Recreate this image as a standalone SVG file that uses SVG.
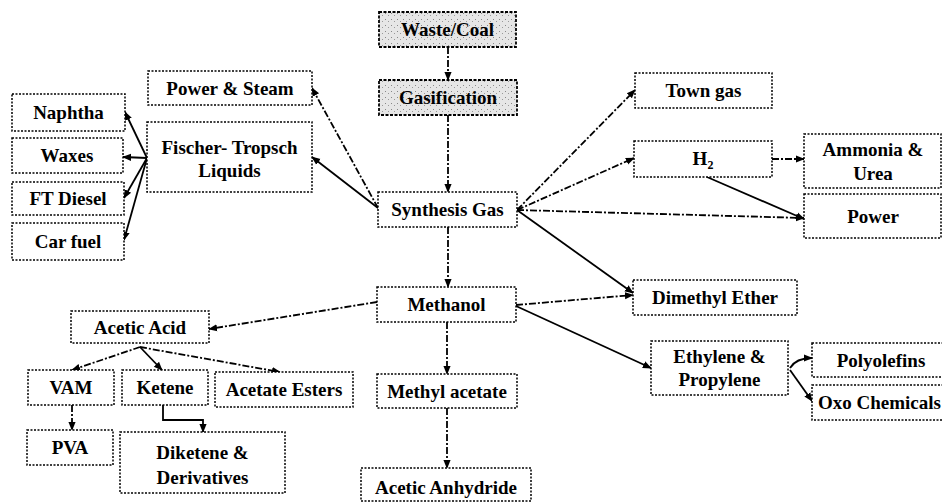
<svg xmlns="http://www.w3.org/2000/svg" width="942" height="502" viewBox="0 0 942 502">
<defs>
<marker id="ah" viewBox="0 0 10 10" refX="9" refY="5" markerWidth="5" markerHeight="5" orient="auto-start-reverse" markerUnits="strokeWidth">
<path d="M0,1 L10,5 L0,9 z" fill="#000"/>
</marker>
<pattern id="stip" width="6" height="6" patternUnits="userSpaceOnUse">
<rect width="6" height="6" fill="#e6e6e6"/>
<rect x="1" y="1" width="1" height="1" fill="#888"/>
<rect x="4" y="3" width="1" height="1" fill="#999"/>
</pattern>
<style>
.box{fill:#fff;stroke:#000;stroke-width:1.5;stroke-dasharray:2 1.5}
.shade{fill:url(#stip);stroke:#000;stroke-width:1.8;stroke-dasharray:3 1.5}
text{font-family:"Liberation Serif","Times New Roman",serif;font-weight:bold;font-size:19px;fill:#000;text-anchor:middle}
.c{fill:none;stroke:#000;stroke-width:1.8;stroke-dasharray:7 2 2 2;marker-end:url(#ah)}
.s{fill:none;stroke:#000;stroke-width:1.8;marker-end:url(#ah)}
</style>
</defs>
<rect width="942" height="502" fill="#fff"/>

<g id="connectors">
<path class="c" d="M448,47 L448,80"/>
<path class="c" d="M448,115 L448,192"/>
<path class="c" d="M448,227 L448,287"/>
<path class="c" d="M447,322 L447,374"/>
<path class="c" d="M447,408 L447,468"/>
<path class="c" d="M378,208 L312,88"/>
<path class="s" d="M378,208 L312,157"/>
<path class="s" d="M147,158 L125,112"/>
<path class="s" d="M147,158 L123,157"/>
<path class="s" d="M147,158 L124,198"/>
<path class="s" d="M147,158 L124,240"/>
<path class="c" d="M517,210 L635,90"/>
<path class="c" d="M517,210 L634,158"/>
<path class="c" d="M517,210 L804,218"/>
<path class="s" d="M517,210 L633,293"/>
<path class="c" d="M516,305 L633,295"/>
<path class="s" d="M516,306 L651,368"/>
<path class="c" d="M772,159 L804,159"/>
<path class="s" d="M707,177 L804,219"/>
<path class="s" d="M790,368 Q796,358 812,358"/>
<path class="s" d="M790,370 L812,401"/>
<path class="c" d="M377,302 L209,329"/>
<path class="c" d="M140,347 L72,370"/>
<path class="s" d="M140,347 L162,370"/>
<path class="c" d="M140,347 L280,372"/>
<path class="c" d="M72,405 L72,430"/>
<path class="s" d="M163,405 L163,420 L203,420 L203,432"/>
</g>

<g id="waste-coal"><rect class="shade" x="379" y="12" width="137" height="35"/><text x="447.5" y="36">Waste/Coal</text></g>
<g id="gasification"><rect class="shade" x="379" y="80" width="138" height="35"/><text x="448" y="104">Gasification</text></g>
<g id="synthesis-gas"><rect class="box" x="378" y="192" width="139" height="35"/><text x="447.5" y="216">Synthesis Gas</text></g>
<g id="methanol"><rect class="box" x="377" y="287" width="139" height="35"/><text x="446.5" y="311">Methanol</text></g>
<g id="methyl-acetate"><rect class="box" x="377" y="374" width="140" height="34"/><text x="447" y="398">Methyl acetate</text></g>
<g id="acetic-anhydride"><rect class="box" x="361" y="468" width="170" height="33"/><text x="446" y="494">Acetic Anhydride</text></g>

<g id="power-steam"><rect class="box" x="148" y="71" width="164" height="34"/><text x="230" y="95">Power &amp; Steam</text></g>
<g id="ft-liquids"><rect class="box" x="147" y="122" width="165" height="70"/><text x="229.5" y="154">Fischer- Tropsch</text><text x="229.5" y="177">Liquids</text></g>
<g id="naphtha"><rect class="box" x="12" y="94" width="113" height="37"/><text x="68.5" y="119">Naphtha</text></g>
<g id="waxes"><rect class="box" x="12" y="138" width="111" height="35"/><text x="67" y="162">Waxes</text></g>
<g id="ft-diesel"><rect class="box" x="12" y="182" width="112" height="33"/><text x="68" y="205">FT Diesel</text></g>
<g id="car-fuel"><rect class="box" x="12" y="223" width="112" height="37"/><text x="68" y="248">Car fuel</text></g>

<g id="town-gas"><rect class="box" x="635" y="73" width="137" height="35"/><text x="703.5" y="97">Town gas</text></g>
<g id="h2"><rect class="box" x="634" y="141" width="138" height="36"/><text x="703" y="165">H<tspan font-size="12" dy="4">2</tspan></text></g>
<g id="ammonia-urea"><rect class="box" x="804" y="134" width="137" height="54"/><text x="873" y="156">Ammonia &amp;</text><text x="873" y="180">Urea</text></g>
<g id="power"><rect class="box" x="804" y="194" width="137" height="44"/><text x="873" y="223">Power</text></g>
<g id="dme"><rect class="box" x="633" y="280" width="164" height="35"/><text x="715" y="304">Dimethyl Ether</text></g>
<g id="ethylene-propylene"><rect class="box" x="651" y="341" width="137" height="54"/><text x="719.5" y="363">Ethylene &amp;</text><text x="719.5" y="386">Propylene</text></g>
<g id="polyolefins"><rect class="box" x="812" y="343" width="135" height="34"/><text x="881" y="367">Polyolefins</text></g>
<g id="oxo-chemicals"><rect class="box" x="812" y="385" width="135" height="35"/><text x="818" y="409" style="text-anchor:start">Oxo Chemicals</text></g>

<g id="acetic-acid"><rect class="box" x="71" y="311" width="138" height="32"/><text x="140" y="334">Acetic Acid</text></g>
<g id="vam"><rect class="box" x="28" y="370" width="86" height="35"/><text x="71" y="394">VAM</text></g>
<g id="ketene"><rect class="box" x="122" y="370" width="86" height="35"/><text x="165" y="394">Ketene</text></g>
<g id="acetate-esters"><rect class="box" x="215" y="372" width="138" height="35"/><text x="284" y="396">Acetate Esters</text></g>
<g id="pva"><rect class="box" x="27" y="430" width="86" height="35"/><text x="70" y="454">PVA</text></g>
<g id="diketene"><rect class="box" x="120" y="432" width="165" height="61"/><text x="202.5" y="459">Diketene &amp;</text><text x="202.5" y="484">Derivatives</text></g>
</svg>
